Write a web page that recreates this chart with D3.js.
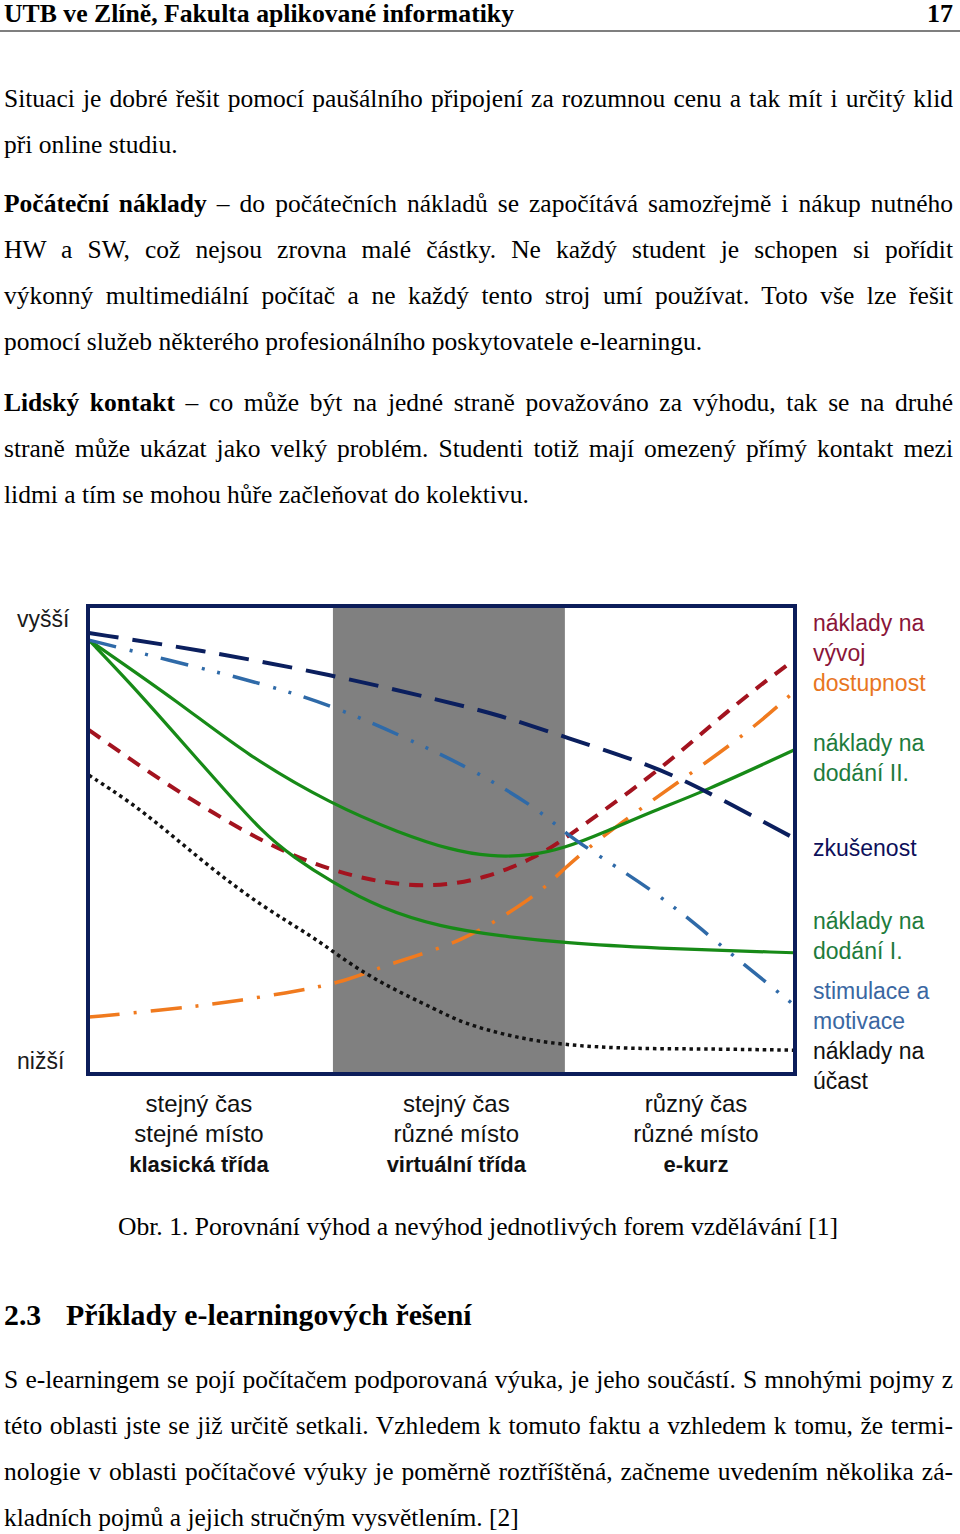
<!DOCTYPE html>
<html><head><meta charset="utf-8">
<script src="https://cdn.jsdelivr.net/npm/d3@7"></script>
<style>
html,body{margin:0;padding:0;background:#fff;}
svg{display:block;}
</style></head>
<body>
<div id="page"></div>
<script>
// ---------- DATA ----------
// x: 0..100 across the forms of education, y: 0 (nižší) .. 100 (vyšší)
const zoneLabels = [
  ["stejný čas", "stejné místo", "klasická třída"],
  ["stejný čas", "různé místo", "virtuální třída"],
  ["různý čas", "různé místo", "e-kurz"]
];
const zoneLabelX = [15.6, 52.1, 86.1];
const greyBand = [34.6, 67.5];
const yAxisLabels = ["vyšší", "nižší"];

const zkusenostX = [0, 15.7, 34.6, 49.8, 58.3, 67.5, 79.6, 86.7, 100];
const zkusenostY = [94.4, 90.8, 85.4, 80.0, 76.8, 72.1, 66.1, 61.2, 50.4];

const stimulaceX = [0, 12.9, 24.3, 34.2, 44.1, 54.0, 63.5, 67.5, 72.5, 81.4, 89.9, 100];
const stimulaceY = [92.9, 88.0, 83.7, 79.0, 72.5, 65.5, 56.9, 51.5, 46.4, 37.8, 27.0, 14.6];

const dodaniIIX = [0, 12.9, 22.4, 34.6, 44.1, 51.2, 56.9, 62.6, 67.5, 72.9, 79.6, 87.1, 100];
const dodaniIIY = [92.9, 79.4, 68.2, 57.5, 51.5, 47.9, 46.4, 46.6, 48.3, 51.5, 56.0, 60.3, 69.3];

const dodaniIX = [0, 5.8, 11.5, 18.6, 24.7, 28.9, 34.6, 41.3, 49.8, 58.3, 67.5, 79.6, 100];
const dodaniIY = [92.9, 83.7, 74.0, 61.8, 51.5, 46.4, 40.8, 35.4, 31.3, 29.4, 27.9, 26.8, 25.8];

const vyvojX = [0, 4, 10.8, 17.6, 24.7, 32.1, 39.9, 48.4, 56.5, 63.5, 67.2, 70.1, 76.7, 83.4, 89.1, 95.6, 100];
const vyvojY = [73.6, 69.3, 62.2, 55.8, 49.6, 44.6, 41.2, 39.7, 41.8, 46.4, 50.0, 53.2, 60.3, 68.2, 75.8, 83.7, 88.6];

const dostupnostX = [0, 10.5, 19.0, 28.1, 35.6, 41.3, 46.0, 53.0, 58.7, 64.0, 67.2, 72.1, 81.0, 86.5, 94.2, 100];
const dostupnostY = [12.0, 13.5, 15.0, 17.2, 19.3, 22.7, 24.9, 28.5, 33.5, 38.8, 43.6, 50.0, 59.7, 65.5, 74.0, 81.8];

const ucastX = [0, 5.8, 10.5, 17.6, 24.7, 31.8, 35.6, 41.3, 49.4, 53.0, 60.1, 67.2, 76.7, 86.5, 100];
const ucastY = [63.9, 58.2, 52.6, 43.6, 35.6, 29.2, 24.9, 19.3, 13.5, 10.7, 7.7, 6.0, 5.2, 5.2, 4.9];

const legendText = [
  {lines: ["náklady na", "vývoj"], key: "vyvoj"},
  {lines: ["dostupnost"], key: "dostupnost"},
  {lines: ["náklady na", "dodání II."], key: "dodaniII"},
  {lines: ["zkušenost"], key: "zkusenost"},
  {lines: ["náklady na", "dodání I."], key: "dodaniI"},
  {lines: ["stimulace a", "motivace"], key: "stimulace"},
  {lines: ["náklady na", "účast"], key: "ucast"}
];

const headerText = "UTB ve Zlíně, Fakulta aplikované informatiky";
const pageNumber = "17";
const captionText = "Obr. 1. Porovnání výhod a nevýhod jednotlivých forem vzdělávání [1]";
const sectionNumber = "2.3";
const sectionTitle = "Příklady e-learningových řešení";

const para1 = [
  {j: true, parts: [["Situaci je dobré řešit pomocí paušálního připojení za rozumnou cenu a tak mít i určitý klid", 0]]},
  {j: false, parts: [["při online studiu.", 0]]}
];
const para2 = [
  {j: true, parts: [["Počáteční náklady", 1], [" – do počátečních nákladů se započítává samozřejmě i nákup nutného", 0]]},
  {j: true, parts: [["HW a SW, což nejsou zrovna malé částky. Ne každý student je schopen si pořídit", 0]]},
  {j: true, parts: [["výkonný multimediální počítač a ne každý tento stroj umí používat. Toto vše lze řešit", 0]]},
  {j: false, parts: [["pomocí služeb některého profesionálního poskytovatele e-learningu.", 0]]}
];
const para3 = [
  {j: true, parts: [["Lidský kontakt", 1], [" – co může být na jedné straně považováno za výhodu, tak se na druhé", 0]]},
  {j: true, parts: [["straně může ukázat jako velký problém. Studenti totiž mají omezený přímý kontakt mezi", 0]]},
  {j: false, parts: [["lidmi a tím se mohou hůře začleňovat do kolektivu.", 0]]}
];
const para4 = [
  {j: true, parts: [["S e-learningem se pojí počítačem podporovaná výuka, je jeho součástí. S mnohými pojmy z", 0]]},
  {j: true, parts: [["této oblasti jste se již určitě setkali. Vzhledem k tomuto faktu a vzhledem k tomu, že termi-", 0]]},
  {j: true, parts: [["nologie v oblasti počítačové výuky je poměrně roztříštěná, začneme uvedením několika zá-", 0]]},
  {j: false, parts: [["kladních pojmů a jejich stručným vysvětlením. [2]", 0]]}
];

// ---------- STYLES ----------
const styles = {
  dostupnost: {color: "#f07a1e", dash: "31,14,3,14", width: 3.5, label: "#e8761f"},
  ucast:      {color: "#111111", dash: "3.5,3.8", width: 3.5, label: "#111111"},
  vyvoj:      {color: "#a3131f", dash: "14,10", width: 4, label: "#8a1538"},
  dodaniI:    {color: "#178a17", dash: null, width: 3.2, label: "#1e7b3c"},
  dodaniII:   {color: "#178a17", dash: null, width: 3.2, label: "#1e7b3c"},
  stimulace:  {color: "#2f6aa8", dash: "28,14,3,13,3,13", width: 3.5, label: "#3a67a2"},
  zkusenost:  {color: "#0b1f5e", dash: "30,14", width: 4, label: "#0d0f5a"}
};

const series = [
  {key: "dostupnost", xs: dostupnostX, ys: dostupnostY},
  {key: "ucast", xs: ucastX, ys: ucastY},
  {key: "vyvoj", xs: vyvojX, ys: vyvojY},
  {key: "dodaniI", xs: dodaniIX, ys: dodaniIY},
  {key: "dodaniII", xs: dodaniIIX, ys: dodaniIIY},
  {key: "stimulace", xs: stimulaceX, ys: stimulaceY},
  {key: "zkusenost", xs: zkusenostX, ys: zkusenostY}
];

// ---------- DRAW ----------
const W = 960, H = 1534;
const svg = d3.select("#page").append("svg").attr("width", W).attr("height", H)
  .attr("viewBox", `0 0 ${W} ${H}`);

const serif = "'Liberation Serif','Times New Roman',serif";
const sans = "'Liberation Sans',Arial,sans-serif";
const bodySize = 25.5;

// header
svg.append("text").attr("x", 4).attr("y", 22).attr("font-family", serif).attr("font-weight", "bold")
  .attr("font-size", 26).attr("textLength", 510).attr("lengthAdjust", "spacingAndGlyphs").text(headerText);
svg.append("text").attr("x", 953).attr("y", 22).attr("font-family", serif).attr("font-weight", "bold")
  .attr("font-size", 26).attr("text-anchor", "end").text(pageNumber);
svg.append("line").attr("x1", 0).attr("x2", 960).attr("y1", 31).attr("y2", 31)
  .attr("stroke", "#555").attr("stroke-width", 1.5);

function drawPara(lines, y0, step) {
  lines.forEach((ln, i) => {
    const t = svg.append("text").attr("x", 4).attr("y", y0 + i * step)
      .attr("font-family", serif).attr("font-size", bodySize).attr("fill", "#000")
      .style("white-space", "pre");
    ln.parts.forEach(p => {
      t.append("tspan").attr("font-weight", p[1] ? "bold" : "normal").text(p[0]);
    });
    if (ln.j) {
      const full = ln.parts.map(p => p[0]).join("");
      const spaces = (full.match(/ /g) || []).length;
      const w = t.node().getComputedTextLength();
      const extra = (949 - w) / spaces;
      t.style("word-spacing", extra + "px");
    }
  });
}
drawPara(para1, 107, 46);
drawPara(para2, 212, 46);
drawPara(para3, 411, 46);

// chart
const x = d3.scaleLinear().domain([0, 100]).range([89, 794]);
const y = d3.scaleLinear().domain([0, 100]).range([1073, 607]);

const chart = svg.append("g");
chart.append("rect").attr("x", x(0)).attr("y", y(100)).attr("width", x(100) - x(0))
  .attr("height", y(0) - y(100)).attr("fill", "#fff");
chart.append("rect").attr("x", x(greyBand[0])).attr("y", y(100))
  .attr("width", x(greyBand[1]) - x(greyBand[0])).attr("height", y(0) - y(100)).attr("fill", "#808080");

const line = d3.line().x(d => x(d[0])).y(d => y(d[1])).curve(d3.curveBasis);
series.forEach(s => {
  const st = styles[s.key];
  const pts = s.xs.map((v, i) => [v, s.ys[i]]);
  chart.append("path").attr("d", line(pts)).attr("fill", "none")
    .attr("stroke", st.color).attr("stroke-width", st.width)
    .attr("stroke-dasharray", st.dash).attr("stroke-linecap", "butt");
});

// frame
chart.append("rect").attr("x", x(0) - 1).attr("y", y(100) - 1)
  .attr("width", x(100) - x(0) + 2).attr("height", y(0) - y(100) + 2)
  .attr("fill", "none").attr("stroke", "#0c1d5a").attr("stroke-width", 4);

// y-axis labels
svg.append("text").attr("x", 17).attr("y", 627).attr("font-family", sans).attr("font-size", 23)
  .attr("fill", "#1a1a1a").text(yAxisLabels[0]);
svg.append("text").attr("x", 17).attr("y", 1069).attr("font-family", sans).attr("font-size", 23)
  .attr("fill", "#1a1a1a").text(yAxisLabels[1]);

// legend labels on the right
const legendBase = {vyvoj: 631, dostupnost: 691, dodaniII: 751, zkusenost: 856, dodaniI: 929, stimulace: 999, ucast: 1059};
legendText.forEach(l => {
  l.lines.forEach((s, i) => {
    svg.append("text").attr("x", 813).attr("y", legendBase[l.key] + i * 30)
      .attr("font-family", sans).attr("font-size", 23).attr("fill", styles[l.key].label).text(s);
  });
});

// zone labels below
zoneLabels.forEach((lines, zi) => {
  lines.forEach((s, i) => {
    svg.append("text").attr("x", x(zoneLabelX[zi])).attr("y", 1112 + i * 30)
      .attr("text-anchor", "middle").attr("font-family", sans)
      .attr("font-size", i === 2 ? 22 : 24).attr("font-weight", i === 2 ? "bold" : "normal")
      .attr("fill", "#111").text(s);
  });
});

// caption
svg.append("text").attr("x", 478).attr("y", 1235).attr("text-anchor", "middle")
  .attr("font-family", serif).attr("font-size", 25.6).text(captionText);

// section heading
svg.append("text").attr("x", 4).attr("y", 1325).attr("font-family", serif).attr("font-weight", "bold")
  .attr("font-size", 29.8).text(sectionNumber);
svg.append("text").attr("x", 66).attr("y", 1325).attr("font-family", serif).attr("font-weight", "bold")
  .attr("font-size", 29.8).text(sectionTitle);

drawPara(para4, 1388, 46);
</script>
</body></html>
